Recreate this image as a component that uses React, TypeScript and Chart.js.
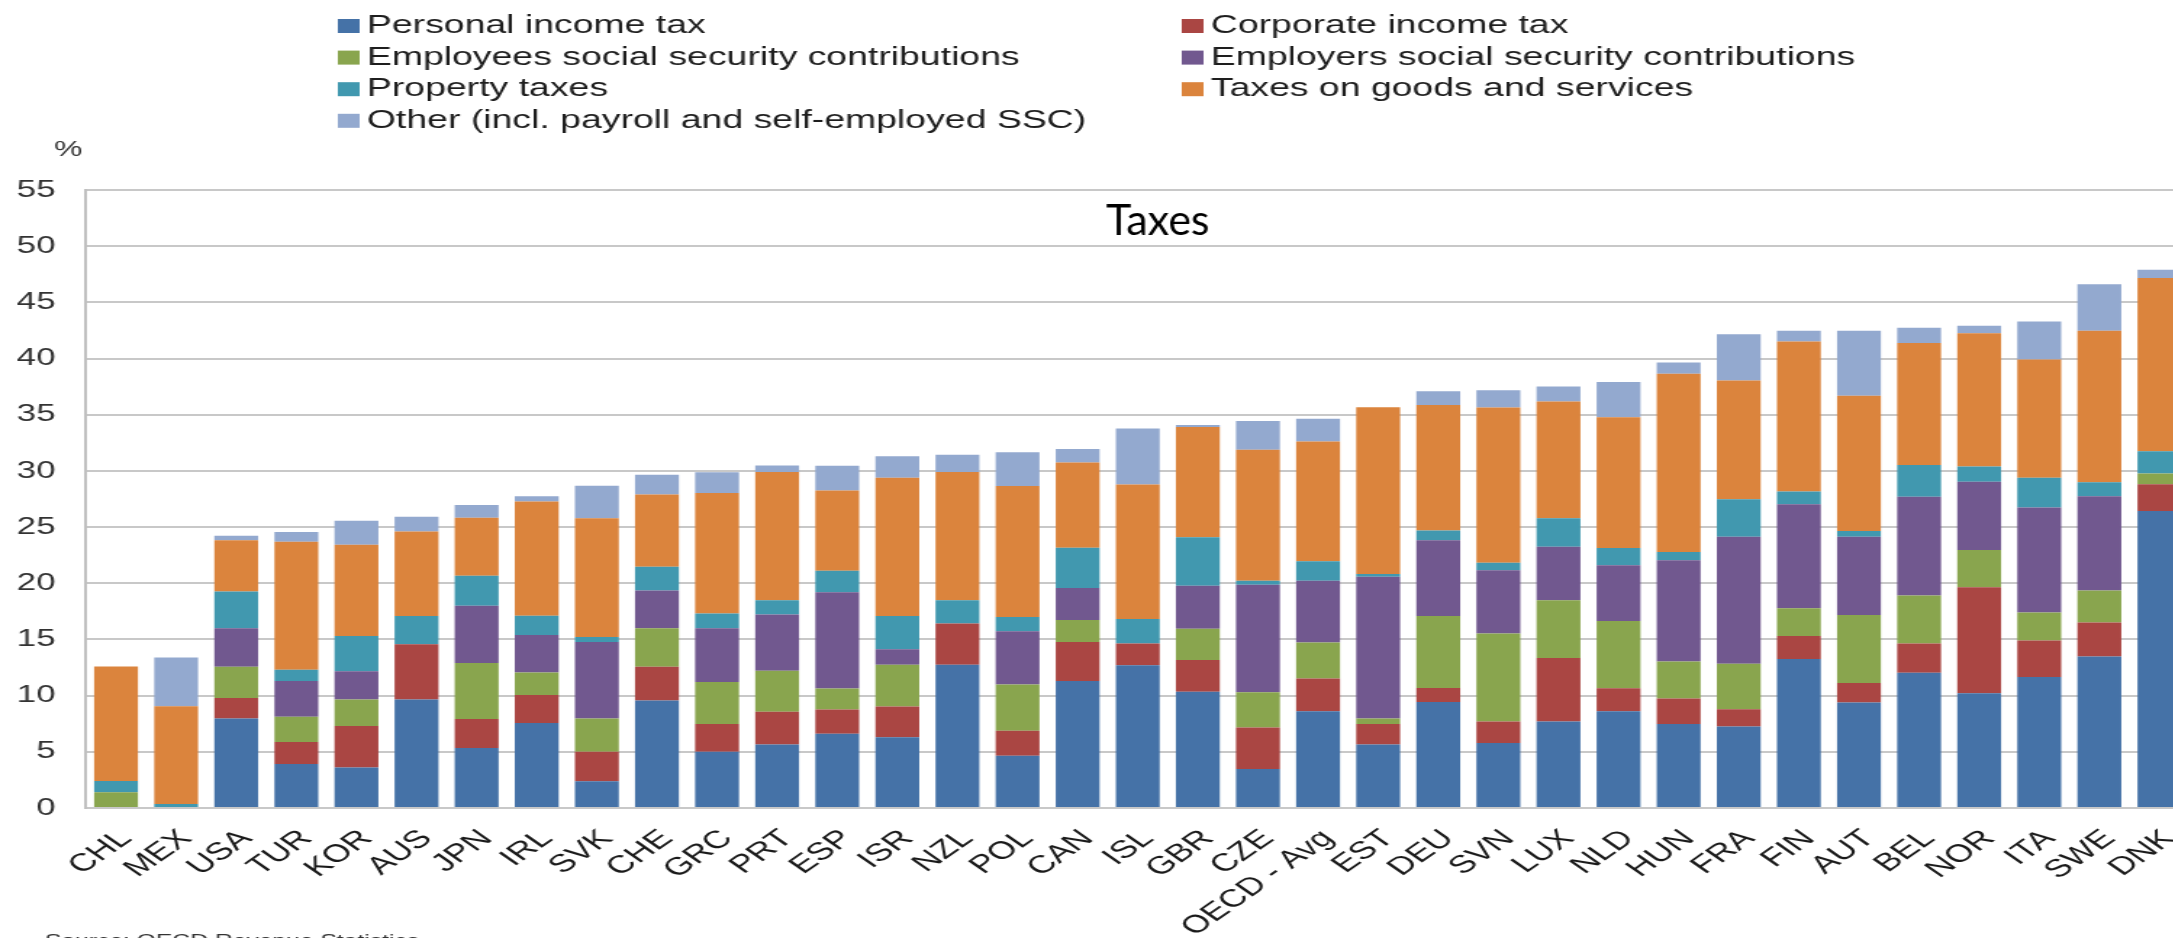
import { useEffect, useRef } from "react";
import { Chart, registerables } from "chart.js";

Chart.register(...registerables);

// Tax revenue by category, % of GDP
const countries = [
  "CHL", "MEX", "USA", "TUR", "KOR", "AUS", "JPN", "IRL", "SVK", "CHE", "GRC", "PRT",
  "ESP", "ISR", "NZL", "POL", "CAN", "ISL", "GBR", "CZE", "OECD - Avg", "EST", "DEU",
  "SVN", "LUX", "NLD", "HUN", "FRA", "FIN", "AUT", "BEL", "NOR", "ITA", "SWE", "DNK",
];

const personalIncomeTax = [
  0, 0, 7.96, 3.91, 3.6, 9.65, 5.35, 7.57, 2.39, 9.57, 5.0, 5.65,
  6.6, 6.3, 12.74, 4.65, 11.3, 12.7, 10.35, 3.48, 8.6, 5.65, 9.43,
  5.78, 7.7, 8.6, 7.48, 7.26, 13.26, 9.39, 12.04, 10.22, 11.65, 13.48, 26.43,
];
const corporateIncomeTax = [
  0, 0, 1.82, 1.96, 3.7, 4.92, 2.56, 2.48, 2.61, 3.0, 2.48, 2.92,
  2.17, 2.74, 3.69, 2.22, 3.48, 1.95, 2.82, 3.69, 2.92, 1.83, 1.26,
  1.91, 5.65, 2.05, 2.26, 1.52, 2.04, 1.74, 2.61, 9.43, 3.26, 3.04, 2.39,
];
const employeesSsc = [
  1.4, 0, 2.79, 2.26, 2.35, 0, 5.0, 2.0, 2.96, 3.43, 3.74, 3.65,
  1.87, 3.7, 0, 4.13, 1.96, 0, 2.79, 3.13, 3.22, 0.48, 6.39,
  7.83, 5.13, 6.0, 3.3, 4.05, 2.48, 6.04, 4.26, 3.31, 2.48, 2.83, 0.96,
];
const employersSsc = [
  0, 0, 3.43, 3.17, 2.52, 0, 5.1, 3.35, 6.82, 3.35, 4.78, 5.0,
  8.57, 1.39, 0, 4.74, 2.83, 0, 3.82, 9.57, 5.48, 12.61, 6.74,
  5.65, 4.78, 4.96, 9.0, 11.3, 9.26, 6.96, 8.79, 6.08, 9.35, 8.39, 0,
];
const propertyTaxes = [
  1.0, 0.35, 3.26, 1.0, 3.13, 2.52, 2.65, 1.7, 0.43, 2.13, 1.3, 1.26,
  1.91, 2.96, 2.05, 1.26, 3.6, 2.18, 4.31, 0.35, 1.74, 0.26, 0.87,
  0.65, 2.52, 1.52, 0.74, 3.35, 1.13, 0.52, 2.82, 1.35, 2.65, 1.26, 1.96,
];
const goodsAndServices = [
  10.2, 8.7, 4.57, 11.4, 8.13, 7.52, 5.17, 10.17, 10.57, 6.43, 10.74, 11.43,
  7.13, 12.3, 11.43, 11.65, 7.57, 11.95, 9.81, 11.67, 10.65, 14.83, 11.17,
  13.83, 10.39, 11.65, 15.87, 10.56, 13.35, 12.05, 10.87, 11.87, 10.52, 13.48, 15.43,
];
const otherTaxes = [
  0, 4.35, 0.4, 0.87, 2.13, 1.3, 1.13, 0.48, 2.91, 1.74, 1.83, 0.57,
  2.22, 1.91, 1.52, 3.0, 1.22, 5.0, 0.19, 2.56, 2.04, 0, 1.22,
  1.52, 1.35, 3.13, 1.0, 4.13, 0.96, 5.78, 1.35, 0.65, 3.39, 4.13, 0.74,
];

const seriesLabels = [
  "Personal income tax",
  "Corporate income tax",
  "Employees social security contributions",
  "Employers social security contributions",
  "Property taxes",
  "Taxes on goods and services",
  "Other (incl. payroll and self-employed SSC)",
];
const seriesValues = [
  personalIncomeTax, corporateIncomeTax, employeesSsc, employersSsc,
  propertyTaxes, goodsAndServices, otherTaxes,
];
const seriesColors = ["#4572A7", "#AA4643", "#89A54E", "#71588F", "#4198AF", "#DB843D", "#93A9CF"];

const yTicks = [0, 5, 10, 15, 20, 25, 30, 35, 40, 45, 50, 55];

// The chart is drawn narrow and widened horizontally by STRETCH.
const STRETCH = 1.45;
const CANVAS_W = 1520;
const CANVAS_H = 960;
const FONT = '"Liberation Sans", Arial, sans-serif';

const overlayPlugin = {
  id: "overlay",
  afterDraw(chart: any) {
    const { ctx, chartArea, scales } = chart;
    ctx.save();

    // two-column legend
    ctx.font = `25.8px ${FONT}`;
    ctx.textAlign = "left";
    ctx.textBaseline = "alphabetic";
    const colX = [233, 815];
    chart.data.datasets.forEach((ds: any, i: number) => {
      const x = colX[i % 2];
      const base = 33 + Math.floor(i / 2) * 31.6;
      ctx.fillStyle = ds.backgroundColor;
      ctx.fillRect(x, base - 14, 15, 14);
      ctx.fillStyle = "#1e1e1e";
      ctx.fillText(ds.label, x + 20, base);
    });

    // unit label above the value axis
    ctx.font = `22px ${FONT}`;
    ctx.fillStyle = "#333";
    ctx.textAlign = "center";
    ctx.fillText("%", 47, 156);

    // title inside the plot, drawn without the horizontal widening
    const tx = chartArea.left + 0.5095 * (chartArea.right - chartArea.left);
    const ty = scales.y.getPixelForValue(51.0);
    ctx.save();
    ctx.translate(tx, ty);
    ctx.scale(1 / STRETCH, 1);
    ctx.font = '43px Lato, "Open Sans", sans-serif';
    ctx.fillStyle = "#000";
    ctx.textAlign = "center";
    ctx.fillText("Taxes", 0, 0);
    ctx.restore();

    // source note
    ctx.font = `17px ${FONT}`;
    ctx.fillStyle = "#333";
    ctx.textAlign = "left";
    ctx.fillText("Source: OECD Revenue Statistics", 31, 946);

    ctx.restore();
  },
};

export default function App() {
  const canvasRef = useRef<HTMLCanvasElement | null>(null);

  useEffect(() => {
    if (!canvasRef.current) return;
    const chart = new Chart(canvasRef.current, {
      type: "bar",
      data: {
        labels: countries,
        datasets: seriesLabels.map((label, i) => ({
          label,
          data: seriesValues[i],
          backgroundColor: seriesColors[i],
          borderWidth: 0,
          barPercentage: 0.73,
          categoryPercentage: 1,
        })),
      },
      options: {
        responsive: false,
        devicePixelRatio: 1,
        animation: false,
        events: [],
        layout: { padding: { top: 190, left: 0, right: 10, bottom: 0 } },
        plugins: {
          legend: { display: false },
          title: { display: false },
          tooltip: { enabled: false },
        },
        scales: {
          x: {
            stacked: true,
            grid: { display: false },
            border: { display: false },
            ticks: {
              autoSkip: false,
              maxRotation: 45,
              minRotation: 45,
              padding: 8,
              labelOffset: 7,
              color: "#1a1a1a",
              font: { family: FONT, size: 25 },
            },
            afterFit(scale: any) {
              scale.height = 152;
            },
          },
          y: {
            stacked: true,
            min: 0,
            max: 55,
            afterBuildTicks(scale: any) {
              scale.ticks = yTicks.map((v) => ({ value: v }));
            },
            grid: { color: "#c8c8c8", lineWidth: 2, drawTicks: false },
            border: { display: true, color: "#c0c0c0", width: 2 },
            ticks: {
              padding: 21,
              color: "#333",
              font: { family: FONT, size: 24 },
            },
            afterFit(scale: any) {
              scale.width = 59.3;
            },
          },
        },
      },
      plugins: [overlayPlugin],
    });
    return () => chart.destroy();
  }, []);

  return (
    <div
      style={{
        position: "absolute",
        left: 0,
        top: 0,
        width: 2173,
        height: 938,
        overflow: "hidden",
        background: "#fff",
      }}
    >
      <canvas
        ref={canvasRef}
        width={CANVAS_W}
        height={CANVAS_H}
        style={{
          display: "block",
          width: CANVAS_W,
          height: CANVAS_H,
          transform: `scaleX(${STRETCH})`,
          transformOrigin: "0 0",
        }}
      />
    </div>
  );
}
